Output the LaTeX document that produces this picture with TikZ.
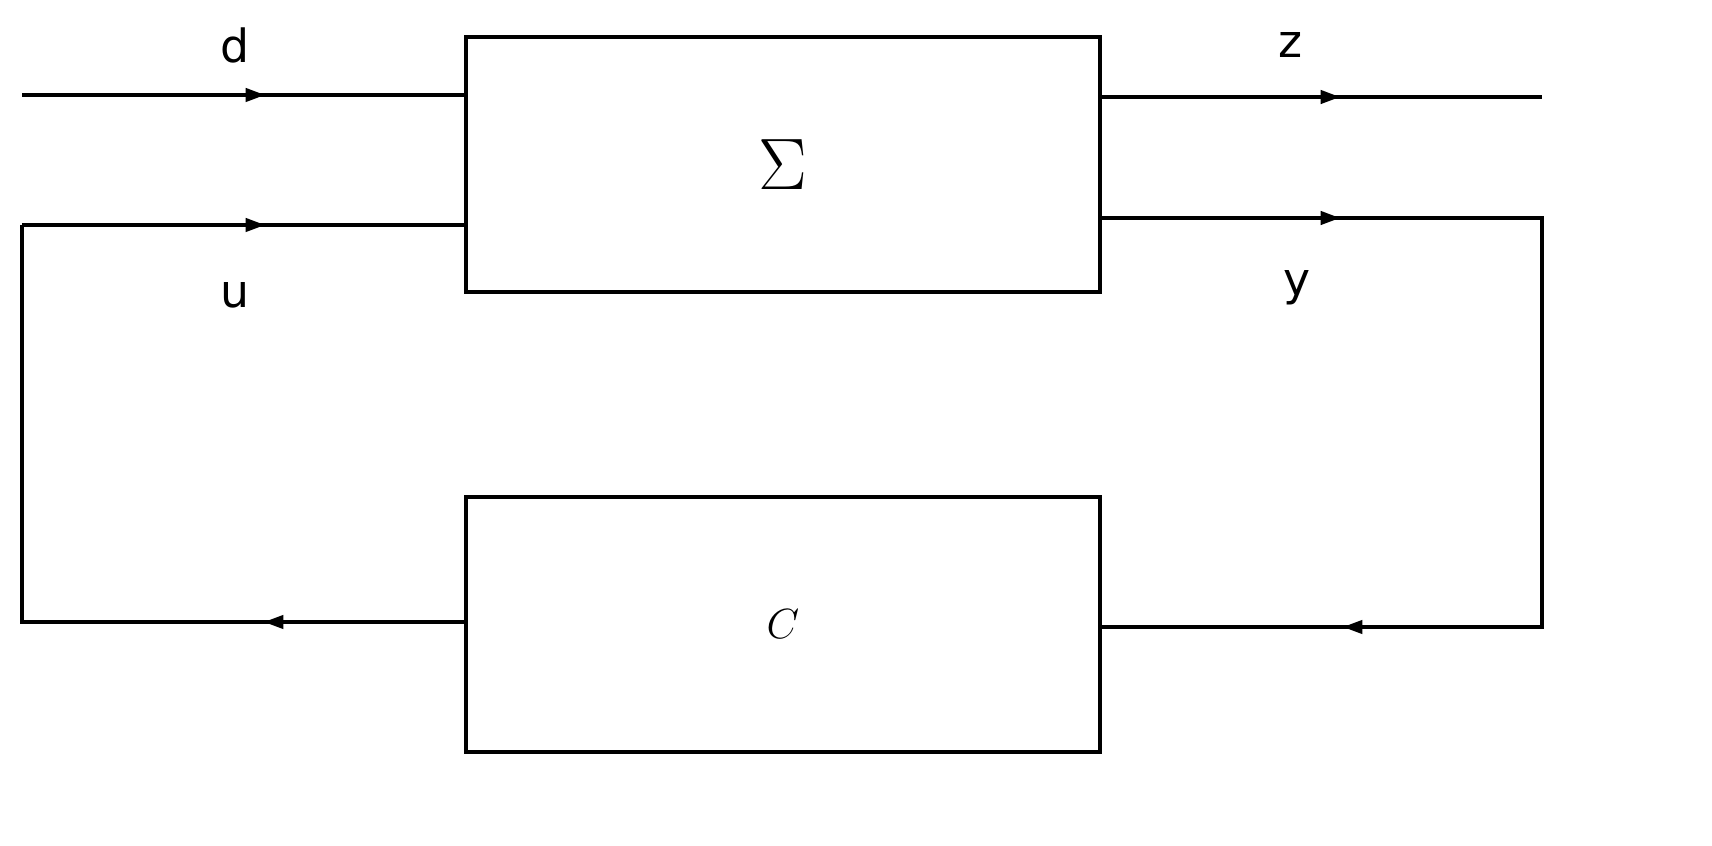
\documentclass[tikz,border=0pt]{standalone}
\usepackage{fontspec}
\newfontfamily\lab{DejaVu Sans}
\usetikzlibrary{arrows.meta}
\begin{document}
\begin{tikzpicture}[x=0.01cm,y=-0.01cm,line width=0.9pt,
  blk/.style={draw,minimum width=634*0.01cm,minimum height=255*0.01cm,inner sep=0},
  lbl/.style={font=\lab\fontsize{13}{16}\selectfont},
  arr/.style={-{Triangle[length=5.5pt,width=3.8pt]}}]
\useasboundingbox (0,0) rectangle (1712,846);
\node[blk] (S) at (783,164.5) {\fontsize{20}{24}\selectfont$\Sigma$};
\node[blk] (C) at (783,624.5) {\fontsize{13}{16}\selectfont$C$};
\coordinate (d0) at (22,95); \coordinate (da) at (265,95); \coordinate (d1) at (466,95);
\coordinate (z0) at (1100,97); \coordinate (za) at (1340,97); \coordinate (z1) at (1542,97);
\coordinate (u0) at (22,225); \coordinate (ua) at (265,225); \coordinate (u1) at (466,225);
\coordinate (y0) at (1100,218); \coordinate (ya) at (1340,218); \coordinate (y1) at (1542,218);
\coordinate (r1) at (1542,627); \coordinate (ra) at (1343,627); \coordinate (r0) at (1100,627);
\coordinate (l1) at (466,622); \coordinate (la) at (264,622); \coordinate (l0) at (22,622);
\draw (d0) -- (d1); \draw[arr] (d0) -- (da);
\draw (z0) -- (z1); \draw[arr] (z0) -- (za);
\draw (u0) -- (u1); \draw[arr] (u0) -- (ua);
\draw (y0) -- (y1) -- (r1) -- (r0); \draw[arr] (y0) -- (ya); \draw[arr] (r1) -- (ra);
\draw (l1) -- (l0) -- (u0); \draw[arr] (l1) -- (la);
\node[lbl] (dl) at (235,45) {d};
\node[lbl] (zl) at (1290,45) {z};
\node[lbl] (ul) at (235,295) {u};
\node[lbl] (yl) at (1297,288) {y};
\end{tikzpicture}
\end{document}
